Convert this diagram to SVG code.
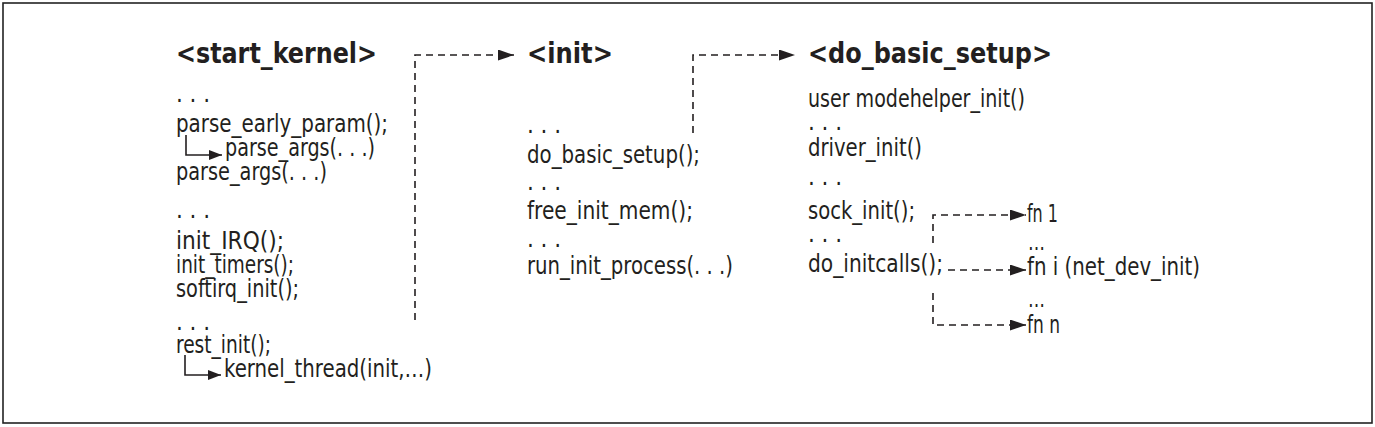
<svg xmlns="http://www.w3.org/2000/svg" width="1375" height="427" viewBox="0 0 1375 427">
<style>
text{font-family:"DejaVu Sans Condensed","Liberation Sans",sans-serif;font-size:24px;fill:#231f20}
.t{font-weight:bold;font-size:28px}
.d{fill:none;stroke:#231f20;stroke-width:1.6;stroke-dasharray:7 5}
.s{fill:none;stroke:#231f20;stroke-width:1.6}
</style>
<defs>
<marker id="ah" markerUnits="userSpaceOnUse" markerWidth="16" markerHeight="12" refX="16" refY="5.5" orient="auto">
<path d="M0,0 L16,5.5 L0,11 z" fill="#231f20"/>
</marker>
<marker id="as" markerUnits="userSpaceOnUse" markerWidth="13" markerHeight="11" refX="13" refY="5" orient="auto">
<path d="M0,0 L13,5 L0,10 z" fill="#231f20"/>
</marker>
</defs>
<rect x="3" y="3" width="1369" height="420" fill="#fff" stroke="#222" stroke-width="1.6"/>
<g id="start_kernel">
<text class="t" x="176" y="63" textLength="201" lengthAdjust="spacingAndGlyphs">&lt;start_kernel&gt;</text>
<text x="176" y="102" textLength="34" lengthAdjust="spacing">. . .</text>
<text x="176" y="132" textLength="212" lengthAdjust="spacingAndGlyphs">parse_early_param();</text>
<path class="s" d="M186,135 V155 H222" marker-end="url(#as)"/>
<text x="225" y="156" textLength="150" lengthAdjust="spacingAndGlyphs">parse_args(. . .)</text>
<text x="176" y="180" textLength="151" lengthAdjust="spacingAndGlyphs">parse_args(. . .)</text>
<text x="176" y="218" textLength="34" lengthAdjust="spacing">. . .</text>
<text x="176" y="249" textLength="108" lengthAdjust="spacingAndGlyphs">init_IRQ();</text>
<text x="176" y="273" textLength="118" lengthAdjust="spacingAndGlyphs">init_timers();</text>
<text x="176" y="297" textLength="123" lengthAdjust="spacingAndGlyphs">softirq_init();</text>
<text x="176" y="330" textLength="34" lengthAdjust="spacing">. . .</text>
<text x="176" y="353" textLength="95" lengthAdjust="spacingAndGlyphs">rest_init();</text>
<path class="s" d="M185,355 V375 H221" marker-end="url(#as)"/>
<text x="224" y="377" textLength="208" lengthAdjust="spacingAndGlyphs">kernel_thread(init,…)</text>
</g>
<g id="init">
<text class="t" x="527" y="63" textLength="86" lengthAdjust="spacingAndGlyphs">&lt;init&gt;</text>
<text x="527" y="133" textLength="34" lengthAdjust="spacing">. . .</text>
<text x="527" y="163" textLength="173" lengthAdjust="spacingAndGlyphs">do_basic_setup();</text>
<text x="527" y="190" textLength="34" lengthAdjust="spacing">. . .</text>
<text x="527" y="219" textLength="166" lengthAdjust="spacingAndGlyphs">free_init_mem();</text>
<text x="527" y="247" textLength="34" lengthAdjust="spacing">. . .</text>
<text x="527" y="274" textLength="206" lengthAdjust="spacingAndGlyphs">run_init_process(. . .)</text>
</g>
<g id="do_basic_setup">
<text class="t" x="808" y="63" textLength="244" lengthAdjust="spacingAndGlyphs">&lt;do_basic_setup&gt;</text>
<text x="808" y="107" textLength="217" lengthAdjust="spacingAndGlyphs">user modehelper_init()</text>
<text x="808" y="130" textLength="34" lengthAdjust="spacing">. . .</text>
<text x="808" y="156" textLength="114" lengthAdjust="spacingAndGlyphs">driver_init()</text>
<text x="808" y="185" textLength="34" lengthAdjust="spacing">. . .</text>
<text x="808" y="219" textLength="107" lengthAdjust="spacingAndGlyphs">sock_init();</text>
<text x="808" y="242" textLength="34" lengthAdjust="spacing">. . .</text>
<text x="808" y="272" textLength="135" lengthAdjust="spacingAndGlyphs">do_initcalls();</text>
</g>
<g id="fns">
<text x="1027" y="222" textLength="31" lengthAdjust="spacingAndGlyphs">fn 1</text>
<text x="1028" y="250" textLength="17" lengthAdjust="spacingAndGlyphs">…</text>
<text x="1027" y="275" textLength="173" lengthAdjust="spacingAndGlyphs">fn i (net_dev_init)</text>
<text x="1028" y="307" textLength="17" lengthAdjust="spacingAndGlyphs">…</text>
<text x="1027" y="333" textLength="33" lengthAdjust="spacingAndGlyphs">fn n</text>
</g>
<g id="connectors">
<path class="d" d="M415,320 V55 H514" marker-end="url(#ah)"/>
<path class="d" d="M693,133 V55 H795" marker-end="url(#ah)"/>
<path class="d" d="M933,243 V215 H1026" marker-end="url(#ah)"/>
<path class="d" d="M948,270 H1026" marker-end="url(#ah)"/>
<path class="d" d="M933,293 V325 H1026" marker-end="url(#ah)"/>
</g>
</svg>
